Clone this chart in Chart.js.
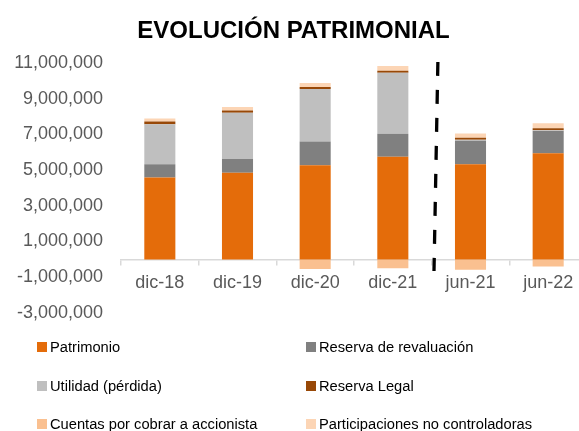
<!DOCTYPE html>
<html>
<head>
<meta charset="utf-8">
<script src="https://cdn.jsdelivr.net/npm/chart.js@4.4.1/dist/chart.umd.min.js"></script>
<style>
  html, body { margin: 0; padding: 0; background: #fff; overflow: hidden; }
  #wrap { position: relative; width: 590px; height: 431px; }
  #leyenda { position: absolute; left: 0; top: 0; width: 590px; height: 431px; pointer-events: none;
             font-family: "Liberation Sans", Arial, sans-serif; font-size: 14.7px; color: #000; }
  .item { position: absolute; display: flex; align-items: center; white-space: nowrap; }
  .caja { width: 10px; height: 10px; margin-right: 3px; }
</style>
</head>
<body>
<div id="wrap">
  <canvas id="grafico" width="590" height="431"></canvas>
  <div id="leyenda"></div>
</div>
<script>
const categorias = ['dic-18', 'dic-19', 'dic-20', 'dic-21', 'jun-21', 'jun-22'];

const patrimonio = [4580000, 4850000, 5270000, 5750000, 5320000, 5940000];
const reservaRevaluacion = [750000, 770000, 1320000, 1280000, 1320000, 1250000];
const utilidad = [2230000, 2590000, 2940000, 3410000, 50000, 30000];
const reservaLegal = [150000, 120000, 120000, 120000, 120000, 120000];
const cuentasPorCobrar = [0, 0, -540000, -490000, -580000, -400000];
const participaciones = [170000, 190000, 220000, 260000, 240000, 280000];

const ticksEje = [-3000000, 11000000, 2000000]; // min, max, paso

const series = [
    { label: 'Patrimonio', data: patrimonio, color: '#E46C0A' },
    { label: 'Reserva de revaluación', data: reservaRevaluacion, color: '#808080' },
    { label: 'Utilidad (pérdida)', data: utilidad, color: '#BFBFBF' },
    { label: 'Reserva Legal', data: reservaLegal, color: '#984807' },
    { label: 'Cuentas por cobrar a accionista', data: cuentasPorCobrar, color: '#FAC090' },
    { label: 'Participaciones no controladoras', data: participaciones, color: '#FCD5B5' }
];

// linea punteada que separa cierres anuales de semestrales
const separador = { xArriba: 3.58, xAbajo: 3.53, yArriba: 11050000, yAbajo: -650000 };

const lineaSeparadora = {
    id: 'lineaSeparadora',
    afterDatasetsDraw(chart) {
        const { ctx, scales: { x, y } } = chart;
        ctx.save();
        ctx.strokeStyle = '#000';
        ctx.lineWidth = 3.3;
        ctx.setLineDash([14, 14]);
        ctx.beginPath();
        ctx.moveTo(x.getPixelForValue(separador.xArriba), y.getPixelForValue(separador.yArriba));
        ctx.lineTo(x.getPixelForValue(separador.xAbajo), y.getPixelForValue(separador.yAbajo));
        ctx.stroke();
        ctx.restore();
    }
};

const ctx = document.getElementById('grafico').getContext('2d');

const config = {
    type: 'bar',
    data: {
        labels: categorias,
        datasets: series.map(s => ({
            label: s.label,
            data: s.data,
            backgroundColor: s.color,
            borderWidth: 0,
            barPercentage: 0.4,
            categoryPercentage: 1.0
        }))
    },
    options: {
        responsive: false,
        animation: false,
        layout: { padding: { left: 0, right: 3, top: 0, bottom: 118 } },
        plugins: {
            legend: { display: false },
            tooltip: { enabled: false },
            title: {
                display: true,
                text: 'EVOLUCIÓN PATRIMONIAL',
                color: '#000',
                font: { family: '"Liberation Sans", Arial, sans-serif', size: 24, weight: 'bold' },
                padding: { top: 17, bottom: 17 }
            }
        },
        scales: {
            x: {
                stacked: true,
                position: { y: 0 },
                offset: true,
                grid: { display: true, drawOnChartArea: false, offset: true, tickLength: 5, color: '#D9D9D9', lineWidth: 1.5 },
                border: { display: true, color: '#D9D9D9', width: 1.5 },
                ticks: {
                    color: '#595959',
                    padding: 8,
                    maxRotation: 0,
                    font: { family: '"Liberation Sans", Arial, sans-serif', size: 18 }
                }
            },
            y: {
                stacked: true,
                min: ticksEje[0],
                max: ticksEje[1],
                grid: { display: false },
                border: { display: false },
                afterFit(scale) { scale.width = 121; },
                ticks: {
                    stepSize: ticksEje[2],
                    color: '#595959',
                    padding: 10,
                    font: { family: '"Liberation Sans", Arial, sans-serif', size: 18 },
                    callback: v => v.toLocaleString('en-US')
                }
            }
        }
    },
    plugins: [lineaSeparadora]
};

const grafico = new Chart(ctx, config);

// leyenda en dos columnas, como en el original
const leyenda = document.getElementById('leyenda');
const colX = [37, 306];
const filaY = [347, 385.5, 424];
series.forEach((s, i) => {
    const div = document.createElement('div');
    div.className = 'item';
    div.style.left = colX[i % 2] + 'px';
    div.style.top = (filaY[Math.floor(i / 2)] - 9) + 'px';
    div.style.height = '18px';
    div.innerHTML = '<span class="caja" style="background:' + s.color + '"></span><span>' + s.label + '</span>';
    leyenda.appendChild(div);
});
</script>
</body>
</html>
